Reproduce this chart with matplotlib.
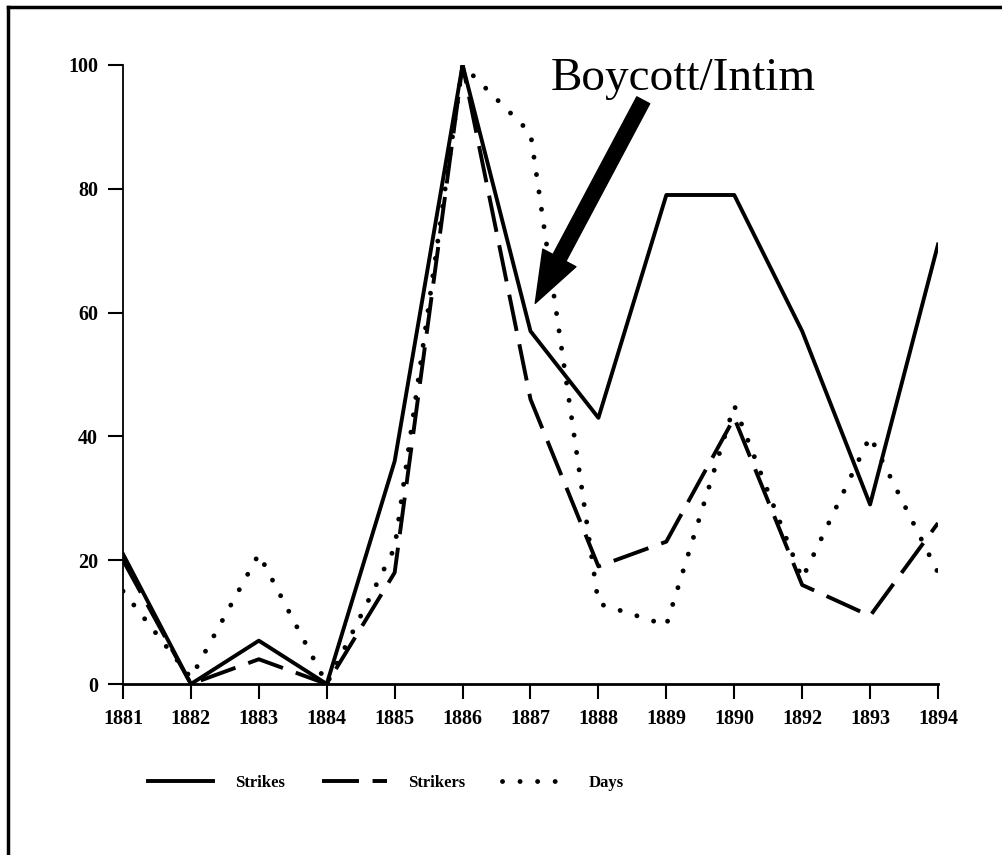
import numpy as np
import matplotlib.pyplot as plt
from matplotlib.lines import Line2D

years = ['1881', '1882', '1883', '1884', '1885', '1886', '1887',
         '1888', '1889', '1890', '1892', '1893', '1894']
strikes = [21, 0, 7, 0, 36, 100, 57, 43, 79, 79, 57, 29, 71]
strikers = [20, 0, 4, 0, 18, 100, 46, 19, 23, 43, 16, 11, 26]
days = [15, 1, 21, 0, 22, 100, 89, 13, 9.5, 45, 17, 40, 18]

plt.rcParams['font.family'] = 'Liberation Serif'

fig = plt.figure(figsize=(10.03, 8.55), dpi=100)
ax = fig.add_axes([123/1003, 1-684/855, (938-123)/1003, (684-65)/855])

x = np.arange(len(years))
ax.plot(x, strikes, c='k', lw=2.8, label='Strikes', zorder=4)
ax.plot(x, strikers, c='k', lw=2.8, ls=(0, (9.5, 3.5)), label='Strikers', zorder=3)
ax.plot(x, days, c='k', lw=3.5, ls=(0, (0.01, 3.6)), dash_capstyle='round',
        label='Days', zorder=2)

ax.set_xlim(0, 12)
ax.set_ylim(0, 100)
ax.set_xticks(x)
ax.set_xticklabels(years)
ax.set_yticks(np.arange(0, 101, 20))
for s in ['top', 'right']:
    ax.spines[s].set_visible(False)
ax.spines['left'].set_linewidth(1.3)
ax.spines['bottom'].set_linewidth(2)
ax.tick_params(axis='both', direction='out', length=11, width=1.5,
               labelsize=14.5, pad=7)
for lab in ax.get_xticklabels() + ax.get_yticklabels():
    lab.set_fontweight('bold')

# annotation
ax.text(8.25, 96, 'Boycott/Intim', fontsize=34, ha='center', va='baseline')
ax.annotate('', xy=(6.07, 61.5), xytext=(7.66, 94.3),
            arrowprops=dict(arrowstyle='simple,head_width=27,head_length=37,tail_width=10.5',
                            mutation_scale=1, fc='k', ec='k', shrinkA=0, shrinkB=0))

leg = ax.legend(loc='center', bbox_to_anchor=(0.385, 1-783/855),
                bbox_transform=fig.transFigure, ncol=3, frameon=False,
                fontsize=12, handlelength=3.9, handletextpad=1.3,
                columnspacing=2.2)
for t in leg.get_texts():
    t.set_fontweight('bold')

# frame lines (top and left only)
fig.add_artist(Line2D([8/1003, 1], [1-7/855, 1-7/855], c='k', lw=2.5,
                      transform=fig.transFigure))
fig.add_artist(Line2D([8/1003, 8/1003], [0, 1-7/855], c='k', lw=2.5,
                      transform=fig.transFigure))

fig.savefig('out.png', dpi=100)
